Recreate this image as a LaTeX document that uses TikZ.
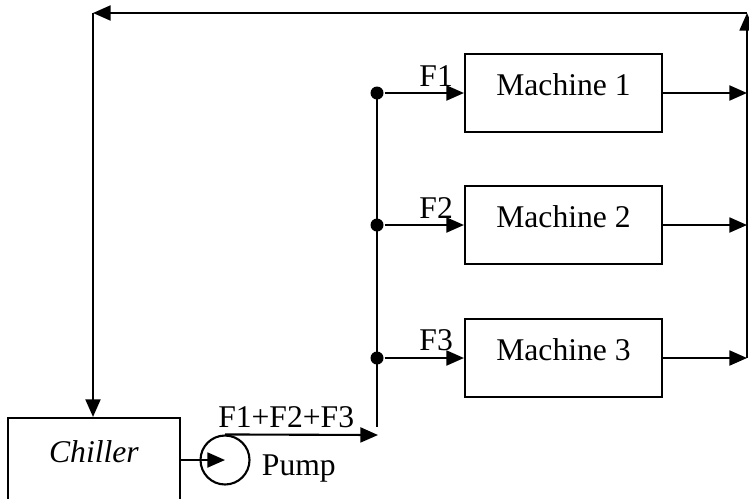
\documentclass[tikz,border=0pt]{standalone}
\usepackage{fontspec}
\setmainfont{Liberation Serif}
\usepackage{tikz}
\usetikzlibrary{arrows.meta,positioning}

\begin{document}
\begin{tikzpicture}[
    x=0.02cm, y=-0.02cm,
    font=\rmfamily\fontsize{18}{22}\selectfont,
    line width=1.2pt,
    unit/.style={draw, minimum width=3.94cm, minimum height=1.56cm,
                 text height=0.44cm, text depth=0.36cm, inner sep=0pt},
    plant/.style={unit, minimum width=3.44cm, minimum height=1.68cm},
    pumpc/.style={draw, circle, minimum size=0.98cm, inner sep=0pt},
    dot/.style={circle, fill=black, minimum size=0.26cm, inner sep=0pt},
    arrow/.style={-{Triangle[length=10pt,width=8.5pt]}},
  ]
    \useasboundingbox (0,0) rectangle (749,498);

    \node[plant] (chill) at (94,460)   {\textit{Chiller}};
    \node[pumpc] (pump)  at (225,460)  {};
    \node[anchor=base west] (pumptxt) at (255,475) {Pump};

    \node[unit] (m1) at (563.5,93)  {Machine 1};
    \node[unit] (m2) at (563.5,225) {Machine 2};
    \node[unit] (m3) at (563.5,358) {Machine 3};

    \node[dot] (j1) at (377,93)  {};
    \node[dot] (j2) at (377,225) {};
    \node[dot] (j3) at (377,358) {};

    \coordinate (busend) at (377,427);
    \coordinate (busin)  at (378,435);
    \coordinate (rtop)   at (747,13);
    \coordinate (ltop)   at (93,13);
    \coordinate (rbot)   at (747,358);

    % supply side
    \draw[arrow] (chill.east) -- (pump.center);
    \draw[arrow] (pump.north) -- node[pos=0.4, above] {F1+F2+F3} (busin);
    \draw (j1.center) -- (busend);

    \draw[arrow] (j1) -- node[pos=0.65, above] {F1} (m1.west);
    \draw[arrow] (j2) -- node[pos=0.65, above] {F2} (m2.west);
    \draw[arrow] (j3) -- node[pos=0.65, above] {F3} (m3.west);

    % return side
    \draw[arrow] (m1.east) -- (m1.east -| rtop);
    \draw[arrow] (m2.east) -- (m2.east -| rtop);
    \draw[arrow] (m3.east) -- (rbot);
    \draw[arrow] (rbot) -- (rtop);
    \draw[arrow] (rtop) -- (ltop);
    \draw[arrow] (ltop) -- (chill.north -| ltop);
\end{tikzpicture}
\end{document}
